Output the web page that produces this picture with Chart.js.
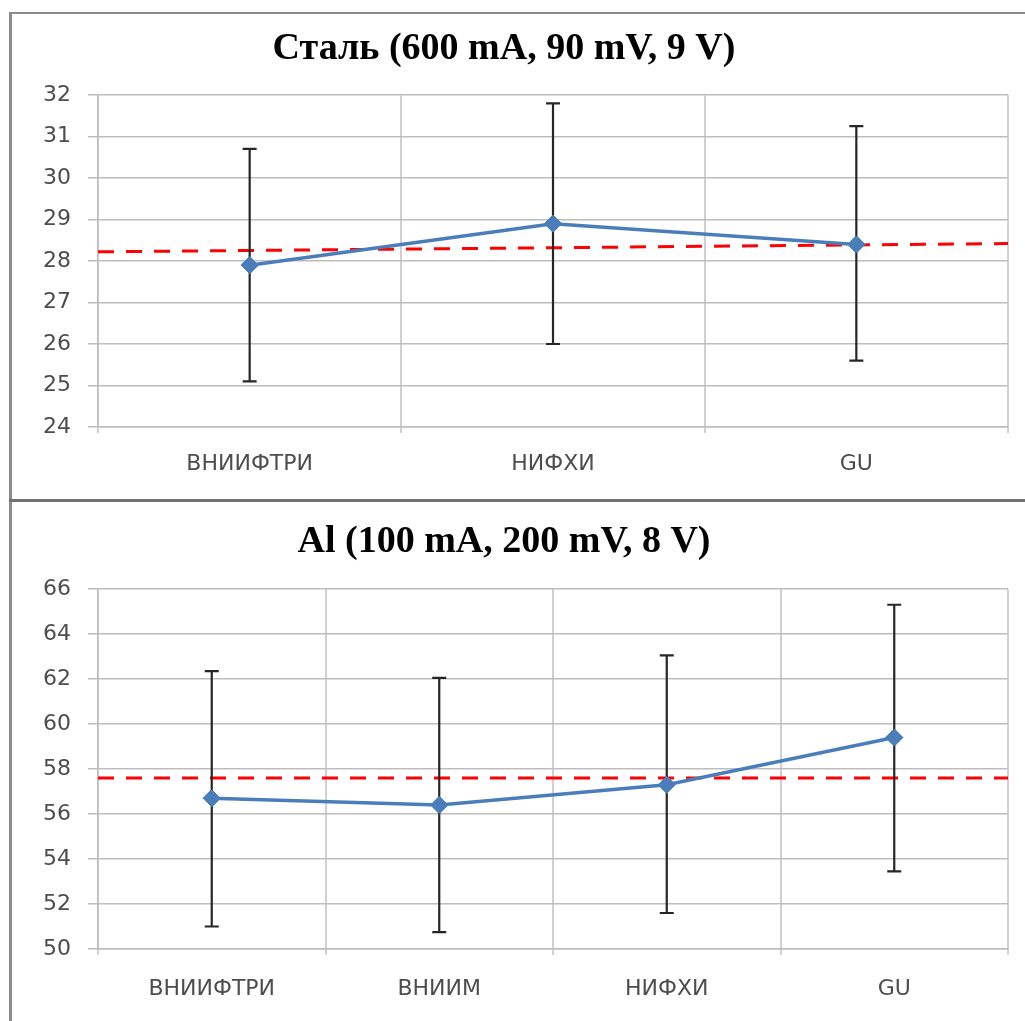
<!DOCTYPE html>
<html>
<head>
<meta charset="utf-8">
<script src="https://cdn.jsdelivr.net/npm/chart.js@4"></script>
<style>
  html, body { margin:0; padding:0; background:#fff; width:1025px; height:1021px; overflow:hidden; }
  canvas { position:absolute; left:0; }
  #c1 { top:0; }
  #c2 { top:500px; }
  .frame { position:absolute; left:9px; top:12px; width:1100px; height:1100px; border-left:3px solid #8c8c8c; border-top:2px solid #8c8c8c; pointer-events:none; }
  .sep { position:absolute; left:9px; top:499px; width:1100px; height:3px; background:#707070; }
</style>
</head>
<body>
<canvas id="c1" width="1025" height="500"></canvas>
<canvas id="c2" width="1025" height="521"></canvas>
<div class="frame"></div>
<div class="sep"></div>
<script>
// ---- Data: Сталь ----
const steelTitle = 'Сталь (600 mA, 90 mV, 9 V)';
const steelCategories = ['ВНИИФТРИ', 'НИФХИ', 'GU'];
const steelMeans = [27.9, 28.9, 28.4];
const steelLow = [25.1, 26.0, 25.6];
const steelHigh = [30.7, 31.8, 31.25];
const steelRefLine = [28.22, 28.42];
const steelYMin = 24, steelYMax = 32, steelYStep = 1;

// ---- Data: Al ----
const alTitle = 'Al (100 mA, 200 mV, 8 V)';
const alCategories = ['ВНИИФТРИ', 'ВНИИМ', 'НИФХИ', 'GU'];
const alMeans = [56.7, 56.4, 57.3, 59.4];
const alLow = [51.0, 50.75, 51.6, 53.45];
const alHigh = [62.35, 62.05, 63.05, 65.3];
const alRefLine = [57.6, 57.6];
const alYMin = 50, alYMax = 66, alYStep = 2;

const refLineX = [0, 1];

const errorBarPlugin = {
  id: 'errorBars',
  afterDatasetsDraw(chart, args, opts) {
    const ctx = chart.ctx, xs = chart.scales.x, ys = chart.scales.y;
    ctx.save();
    ctx.strokeStyle = '#262626';
    ctx.lineWidth = 2.2;
    opts.low.forEach((lo, i) => {
      const x = xs.getPixelForValue(i);
      const yl = ys.getPixelForValue(lo), yh = ys.getPixelForValue(opts.high[i]);
      ctx.beginPath();
      ctx.moveTo(x, yh); ctx.lineTo(x, yl);
      ctx.moveTo(x - 7, yh); ctx.lineTo(x + 7, yh);
      ctx.moveTo(x - 7, yl); ctx.lineTo(x + 7, yl);
      ctx.stroke();
    });
    // redraw markers on top of error bars
    const meta = chart.getDatasetMeta(0);
    meta.data.forEach(p => p.draw(ctx, chart.chartArea));
    ctx.restore();
  }
};

function makeChart(id, title, cats, means, low, high, ref, yMin, yMax, yStep, titlePad, xPad) {
  return new Chart(document.getElementById(id), {
    type: 'line',
    data: {
      labels: cats,
      datasets: [
        {
          data: means,
          xAxisID: 'x',
          borderColor: '#4A7EBB',
          backgroundColor: '#4A7EBB',
          borderWidth: 3.5,
          pointStyle: 'rectRot',
          pointRadius: 8.5,
          pointBorderWidth: 1,
          tension: 0,
          order: 0
        },
        {
          data: refLineX.map((x, i) => ({ x: x, y: ref[i] })),
          xAxisID: 'x2',
          borderColor: '#FF0000',
          borderWidth: 3,
          borderDash: [16, 12],
          pointRadius: 0,
          fill: false,
          order: 1
        }
      ]
    },
    options: {
      responsive: false,
      animation: false,
      devicePixelRatio: 1,
      layout: { padding: { left: 0, right: 17, top: 0, bottom: 0 } },
      plugins: {
        legend: { display: false },
        tooltip: { enabled: false },
        title: {
          display: true,
          text: title,
          color: '#000',
          font: { family: '"Liberation Serif", "Times New Roman", serif', size: 38, weight: 'bold', lineHeight: 1.2 },
          padding: titlePad
        },
        errorBars: { low: low, high: high }
      },
      scales: {
        x: {
          type: 'category',
          offset: true,
          grid: { offset: true, color: '#D0D0D0', lineWidth: 2, tickLength: 6, drawTicks: true },
          border: { color: '#BDBDBD', width: 1.5 },
          ticks: { color: '#4d4d4d', font: { family: '"DejaVu Sans", sans-serif', size: 22 }, padding: xPad, maxRotation: 0 },
          afterFit(s) { s.height = (id === 'c1' ? 500 - 427 : 521 - 449); }
        },
        x2: { type: 'linear', display: false, min: 0, max: 1 },
        y: {
          min: yMin, max: yMax,
          ticks: { stepSize: yStep, color: '#4d4d4d', font: { family: '"DejaVu Sans", sans-serif', size: 22 }, padding: 17 },
          grid: { color: '#BDBDBD', lineWidth: 1.5, tickLength: 10 },
          border: { color: '#BDBDBD', width: 1.5 },
          afterFit(s) { s.width = 98; }
        }
      }
    },
    plugins: [errorBarPlugin]
  });
}

makeChart('c1', steelTitle, steelCategories, steelMeans, steelLow, steelHigh, steelRefLine,
  steelYMin, steelYMax, steelYStep, { top: 26, bottom: 23.4 }, 18);
makeChart('c2', alTitle, alCategories, alMeans, alLow, alHigh, alRefLine,
  alYMin, alYMax, alYStep, { top: 19, bottom: 24.4 }, 21);
</script>
</body>
</html>
